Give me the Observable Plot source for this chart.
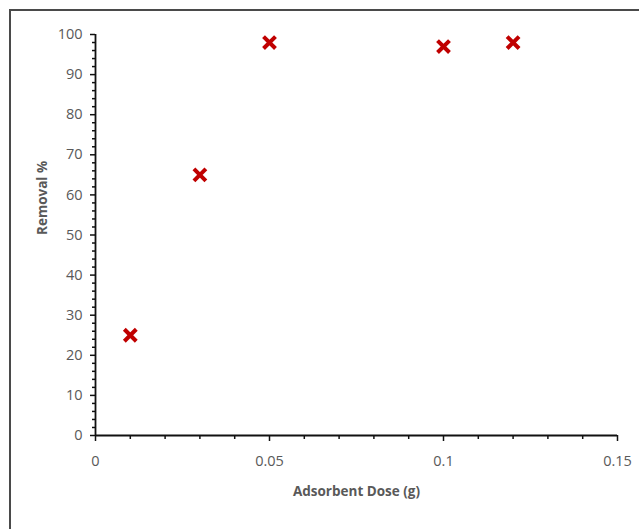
<!DOCTYPE html>
<html>
<head>
<meta charset="utf-8">
<script src="https://cdn.jsdelivr.net/npm/d3@7"></script>
<script src="https://cdn.jsdelivr.net/npm/@observablehq/plot@0.6"></script>
<style>
  html, body { margin: 0; padding: 0; background: #fff; overflow: hidden; }
  #wrap { position: relative; width: 639px; height: 529px; overflow: hidden; }
  #border { position: absolute; left: 9px; top: 9px; width: 700px; height: 700px; border: 2px solid #4a4a4a; box-sizing: border-box; pointer-events: none; }
  #chart { position: absolute; left: 0; top: 0; }
</style>
</head>
<body>
<div id="wrap"><div id="chart"></div><div id="border"></div></div>
<script>
const doses = [0.01, 0.03, 0.05, 0.1, 0.12];
const removal = [25, 65, 98, 97, 98];
const xTicks = [0, 0.05, 0.1, 0.15];
const xMinorTicks = [0.01, 0.02, 0.03, 0.04, 0.06, 0.07, 0.08, 0.09, 0.11, 0.12, 0.13, 0.14];
const yTicks = [0, 10, 20, 30, 40, 50, 60, 70, 80, 90, 100];
const yMinorTicks = [2,4,6,8,12,14,16,18,22,24,26,28,32,34,36,38,42,44,46,48,52,54,56,58,62,64,66,68,72,74,76,78,82,84,86,88,92,94,96,98];
const xTitle = "Adsorbent Dose (g)";
const yTitle = "Removal %";

const data = doses.map((d, i) => ({dose: d, removal: removal[i]}));
const font = "'Open Sans', 'Liberation Sans', sans-serif";
const grey = "#595959";

const chart = Plot.plot({
  width: 639,
  height: 529,
  marginLeft: 95,
  marginRight: 22,
  marginTop: 34,
  marginBottom: 94,
  style: {fontFamily: font, background: "transparent", overflow: "visible"},
  x: {domain: [0, 0.15], label: null},
  y: {domain: [0, 100], label: null},
  marks: [
    Plot.axisX(xMinorTicks, {tickSize: 4, text: null, stroke: "#111", strokeWidth: 1.5, strokeOpacity: 1, label: null}),
    Plot.axisX(xTicks, {tickSize: 6, tickPadding: 14, tickFormat: d => String(d), fontSize: 14.5, fill: grey, stroke: "#111", strokeWidth: 1.5, strokeOpacity: 1, label: null}),
    Plot.axisY(yMinorTicks, {tickSize: 3, text: null, stroke: "#111", strokeWidth: 1.5, strokeOpacity: 1, label: null}),
    Plot.axisY(yTicks, {tickSize: 5, tickPadding: 8, tickFormat: d => String(d), fontSize: 14.5, fill: grey, stroke: "#111", strokeWidth: 1.5, strokeOpacity: 1, label: null}),
    Plot.ruleX([0], {stroke: "#111", strokeWidth: 1.8}),
    Plot.ruleY([0], {stroke: "#111", strokeWidth: 1.8}),
    Plot.dot(data, {x: "dose", y: "removal", symbol: "times", r: 5.5, stroke: "#c00000", strokeWidth: 4}),
    Plot.text([xTitle], {frameAnchor: "bottom", dy: 60, fontSize: 13.5, fontWeight: "bold", fill: grey}),
    Plot.text([yTitle], {frameAnchor: "left", dx: -53, rotate: -90, fontSize: 13.5, fontWeight: "bold", fill: grey})
  ]
});
document.getElementById("chart").appendChild(chart);
</script>
</body>
</html>
